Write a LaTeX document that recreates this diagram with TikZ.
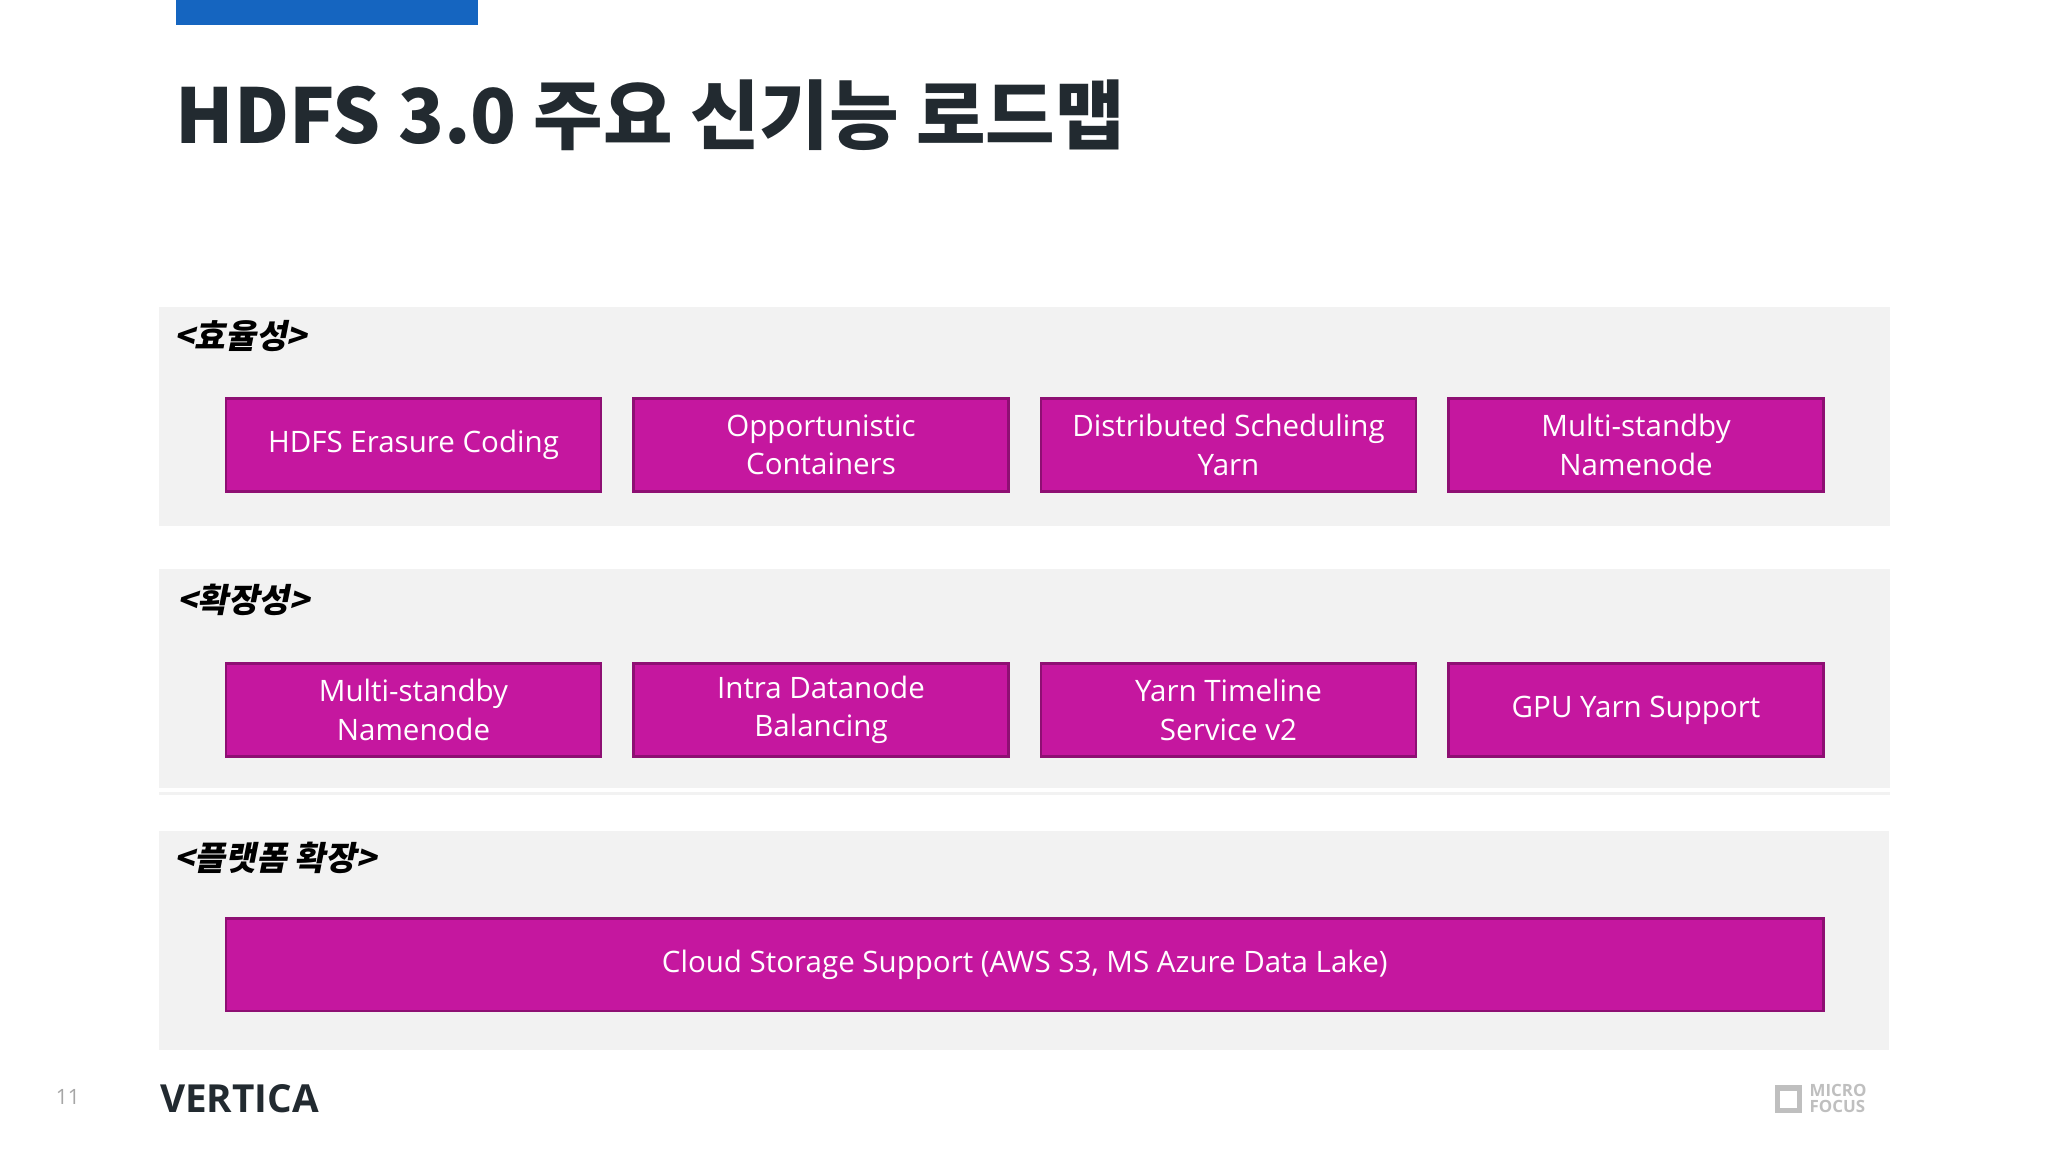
\documentclass[tikz,border=0pt]{standalone}
\usepackage{fontspec}
\setmainfont{Open Sans}
\newfontfamily\cjk{Noto Sans CJK KR}
\definecolor{mag}{HTML}{C5179F}
\definecolor{magd}{HTML}{8E0F73}
\definecolor{pan}{HTML}{F2F2F2}
\definecolor{blu}{HTML}{1565C0}
\definecolor{ttl}{HTML}{222A30}
\begin{document}
\begin{tikzpicture}[x=0.01306cm,y=-0.01306cm,
  box/.style={draw=magd,line width=0.8pt,fill=mag,text=white,font=\fontsize{8.4}{11}\selectfont,align=center,inner sep=0pt,minimum height=71*0.01306cm,anchor=north west},
  panel/.style={fill=pan,draw=none},
  sec/.style={anchor=west,font=\cjk\bfseries\fontsize{9.5}{11}\selectfont,text=black,xslant=0.2,transform shape}]
\useasboundingbox (0,0) rectangle (1568,882);
\fill[white] (0,0) rectangle (1568,882);
\fill[blu] (135,0) rectangle (366,19);
\node[anchor=west,text=ttl,inner sep=0pt] (title) at (134,88) {\fontsize{21.5}{26}\selectfont\cjk\bfseries HDFS 3.0 주요 신기능 로드맵};
\fill[panel] (122,235) rectangle (1447,403);
\fill[panel] (122,436) rectangle (1447,603);
\fill[panel] (122,606) rectangle (1447,609);
\fill[panel] (122,636) rectangle (1446,804);
\node[sec] (s1) at (126,257) {<효율성>};
\node[sec] (s2) at (128,459) {<확장성>};
\node[sec] (s3) at (126,657) {<플랫폼 확장>};
\foreach \n/\x/\t in {a/172/HDFS Erasure Coding,b/484/Opportunistic\\Containers,c/796/Distributed Scheduling\\Yarn,d/1108/Multi-standby\\Namenode}{
  \node[box,minimum width=287*0.01306cm] (\n) at (\x,304) {\t};}
\foreach \n/\x/\t in {e/172/Multi-standby\\Namenode,f/484/Intra Datanode\\Balancing,g/796/Yarn Timeline\\Service v2,h/1108/GPU Yarn Support}{
  \node[box,minimum width=287*0.01306cm] (\n) at (\x,507) {\t};}
\node[box,minimum width=1223*0.01306cm] (i) at (172,702) {Cloud Storage Support (AWS S3, MS Azure Data Lake)};
\node[text=gray!70,font=\fontsize{6}{7}\selectfont] (pg) at (52,840) {11};
\node[anchor=west,inner sep=0pt,text=ttl,font=\fontsize{11}{12}\selectfont\bfseries] (logo) at (122,841) {VERTICA};
\node[anchor=west,inner sep=0pt,text=gray!50,align=left,font=\fontsize{4.8}{4.6}\selectfont\bfseries] (mf) at (1385,841) {MICRO\\FOCUS};
\draw[gray!50,line width=1.5pt] (1361,833) rectangle (1378,850);
\end{tikzpicture}
\end{document}
